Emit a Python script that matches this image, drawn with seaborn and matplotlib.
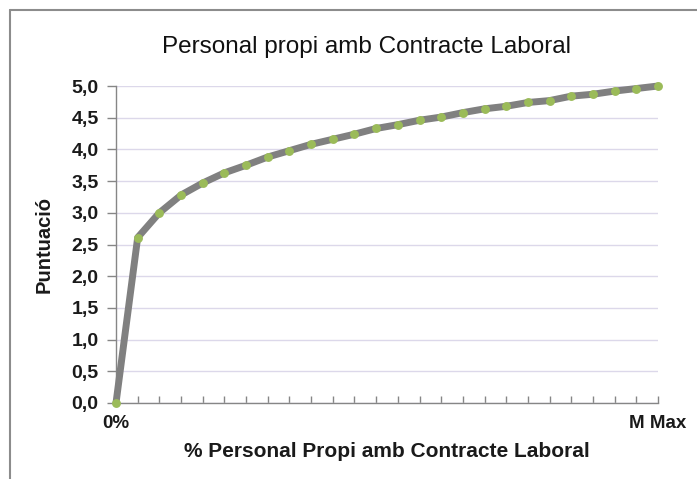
import matplotlib

matplotlib.use("Agg")

import matplotlib.pyplot as plt
import numpy as np
import pandas as pd
import seaborn as sns
from matplotlib.lines import Line2D

# data
positions = list(range(26))
scores = [0.0, 2.61, 3.00, 3.28, 3.47, 3.63, 3.75, 3.88, 3.98, 4.08, 4.16,
          4.24, 4.33, 4.39, 4.46, 4.51, 4.58, 4.64, 4.68, 4.74, 4.77,
          4.84, 4.87, 4.92, 4.96, 5.0]
x_labels = ["0%"] + [""] * 24 + ["M Max"]
y_ticks = [0.0, 0.5, 1.0, 1.5, 2.0, 2.5, 3.0, 3.5, 4.0, 4.5, 5.0]

title = "Personal propi amb Contracte Laboral"
x_title = "% Personal Propi amb Contracte Laboral"
y_title = "Puntuació"

sns.set_theme(style="white")
plt.rcParams["font.family"] = ["Liberation Sans", "DejaVu Sans"]

df = pd.DataFrame({"pos": positions, "score": scores})

fig = plt.figure(figsize=(6.97, 4.79), dpi=100)
ax = fig.add_axes([116 / 697, 1 - 403 / 479, (658 - 116) / 697, (403 - 86) / 479])

sns.lineplot(data=df, x="pos", y="score", ax=ax, color="#808080", linewidth=5.0,
             marker="o", markersize=6.4, markerfacecolor="#9BBB59",
             markeredgewidth=0, zorder=3, clip_on=False)

ax.set_xlim(0, 25)
ax.set_ylim(0, 5)
ax.set_xticks(positions)
ax.set_xticklabels(x_labels, fontsize=13.5, fontweight="bold", color="#1a1a1a")
ax.set_yticks(y_ticks)
ax.set_yticklabels([f"{v:.1f}".replace(".", ",") for v in y_ticks],
                   fontsize=14, fontweight="bold", color="#1a1a1a")
ax.tick_params(axis="y", direction="out", length=6.5, width=1, color="#868686", left=True, pad=6)
ax.tick_params(axis="x", direction="in", length=5, width=1, color="#868686", bottom=True, pad=9)
ax.yaxis.grid(True, color="#DCD8EA", linewidth=1)
ax.xaxis.grid(False)
for side in ["top", "right"]:
    ax.spines[side].set_visible(False)
for side in ["left", "bottom"]:
    ax.spines[side].set_color("#868686")
    ax.spines[side].set_linewidth(1)

fig.text(366 / 697, 1 - 47 / 479, title, fontsize=17.5, color="#111111", ha="center", va="center")
ax.set_xlabel(x_title, fontsize=15, fontweight="bold", color="#1a1a1a")
ax.xaxis.set_label_coords(0.5, (403 - 442) / 317)
ax.set_ylabel(y_title, fontsize=14.5, fontweight="bold", color="#1a1a1a")
ax.yaxis.set_label_coords((54 - 116) / 542, 0.5)

# chart frame, as in the spreadsheet export
fx = 9.5 / 697
fy = 1 - 9.5 / 479
fig.add_artist(Line2D([fx, 1], [fy, fy], transform=fig.transFigure, color="#8c8c8c", linewidth=1.5))
fig.add_artist(Line2D([fx, fx], [0, fy], transform=fig.transFigure, color="#8c8c8c", linewidth=1.5))

fig.savefig("out.png", dpi=100)
